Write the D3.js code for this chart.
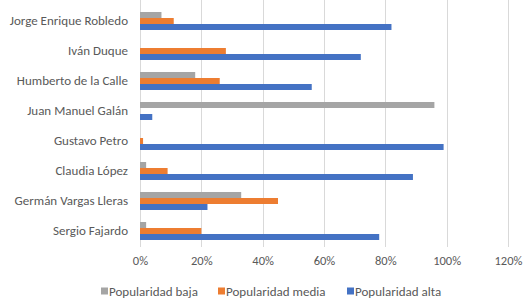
<!DOCTYPE html>
<html>
<head>
<meta charset="utf-8">
<script src="https://cdn.jsdelivr.net/npm/d3@7"></script>
<style>
  body { margin: 0; background: #fff; }
  svg { display: block; font-family: Carlito, Calibri, Lato, sans-serif; }
</style>
</head>
<body>
<div id="svgOutput"></div>
<script>
// data
const candidates = ["Jorge Enrique Robledo", "Iván Duque", "Humberto de la Calle", "Juan Manuel Galán",
  "Gustavo Petro", "Claudia López", "Germán Vargas Lleras", "Sergio Fajardo"];
const seriesNames = ["Popularidad baja", "Popularidad media", "Popularidad alta"];
const baja  = [7, 0, 18, 96, 0, 2, 33, 2];
const media = [11, 28, 26, 0, 1, 9, 45, 20];
const alta  = [82, 72, 56, 4, 99, 89, 22, 78];
const xTicks = [0, 20, 40, 60, 80, 100, 120];

(function () {
  const width = 531;
  const height = 305;
  const margin = { top: 6, bottom: 59, left: 140, right: 23 };
  const colors = ["#a5a5a5", "#ed7d31", "#4472c4"];
  const textColor = "#595959";

  const rows = candidates.map((c, i) => ({ name: c, values: [baja[i], media[i], alta[i]] }));

  // scales
  const xScale = d3.scaleLinear()
    .domain([0, 120])
    .range([margin.left, width - margin.right]);

  const yScale = d3.scaleBand()
    .domain(candidates)
    .range([margin.top, height - margin.bottom])
    .paddingInner(0.4)
    .paddingOuter(0.2);

  const inner = d3.scaleBand()
    .domain(d3.range(seriesNames.length))
    .range([0, yScale.bandwidth()]);

  const svg = d3.select("#svgOutput")
    .append("svg")
    .attr("width", width)
    .attr("height", height);

  // gridlines
  svg.append("g")
    .selectAll("line")
    .data(xTicks)
    .join("line")
    .attr("x1", d => Math.round(xScale(d)) + 0.5)
    .attr("x2", d => Math.round(xScale(d)) + 0.5)
    .attr("y1", 0)
    .attr("y2", height - margin.bottom + 1)
    .attr("stroke", "#d9d9d9")
    .attr("stroke-width", 1);

  // bars
  const groups = svg.append("g")
    .selectAll("g")
    .data(rows)
    .join("g")
    .attr("transform", d => "translate(0," + yScale(d.name) + ")");

  groups.selectAll("rect")
    .data(d => d.values)
    .join("rect")
    .attr("x", xScale(0))
    .attr("y", (d, i) => inner(i))
    .attr("width", d => xScale(d) - xScale(0))
    .attr("height", inner.bandwidth())
    .attr("fill", (d, i) => colors[i]);

  // axes
  const yAxis = d3.axisLeft(yScale).tickSize(0).tickPadding(12);
  svg.append("g")
    .attr("transform", "translate(" + margin.left + ",0)")
    .call(yAxis)
    .call(g => g.select(".domain").remove())
    .call(g => g.selectAll(".tick text")
      .attr("fill", textColor)
      .style("font-size", "13px")
      .style("font-family", "Carlito, Calibri, Lato, sans-serif"));

  const xAxis = d3.axisBottom(xScale)
    .tickValues(xTicks)
    .tickSize(0)
    .tickPadding(10)
    .tickFormat(d => d + "%");
  svg.append("g")
    .attr("transform", "translate(0," + (height - margin.bottom) + ")")
    .call(xAxis)
    .call(g => g.select(".domain").remove())
    .call(g => g.selectAll(".tick text")
      .attr("fill", textColor)
      .style("font-size", "12.5px")
      .style("font-family", "Carlito, Calibri, Lato, sans-serif"));

  // legend
  const legendX = [101, 218, 347];
  const legend = svg.append("g")
    .selectAll("g")
    .data(seriesNames)
    .join("g")
    .attr("transform", (d, i) => "translate(" + legendX[i] + "," + 291 + ")");

  legend.append("rect")
    .attr("x", 0)
    .attr("y", -3.5)
    .attr("width", 7)
    .attr("height", 7)
    .attr("fill", (d, i) => colors[i]);

  legend.append("text")
    .attr("x", 8)
    .attr("dy", "0.35em")
    .attr("fill", textColor)
    .style("font-size", "13px")
    .text(d => d);
})();
</script>
</body>
</html>
